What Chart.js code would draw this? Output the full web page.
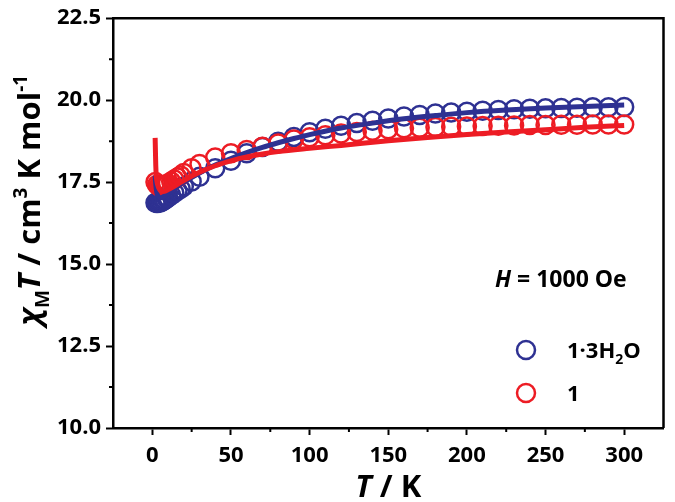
<!DOCTYPE html>
<html>
<head>
<meta charset="utf-8">
<script src="https://cdn.jsdelivr.net/npm/chart.js@4"></script>
<style>
html, body { margin: 0; padding: 0; background: #fff; }
</style>
</head>
<body>
<canvas id="myChart" width="675" height="502"></canvas>
<script>
// measured points, 1·3H2O and 1
var tempHyd = [2, 3, 4, 5, 6, 7, 8, 9, 10, 12, 14, 16, 18, 20, 25, 30, 40, 50, 60, 70, 80, 90, 100, 110, 120, 130, 140, 150, 160, 170, 180, 190, 200, 210, 220, 230, 240, 250, 260, 270, 280, 290, 300];
var chiHyd = [16.87, 16.86, 16.87, 16.88, 16.9, 16.93, 16.96, 17.0, 17.03, 17.1, 17.17, 17.24, 17.3, 17.37, 17.52, 17.66, 17.92, 18.15, 18.38, 18.57, 18.73, 18.88, 19.02, 19.13, 19.22, 19.3, 19.37, 19.44, 19.5, 19.55, 19.59, 19.62, 19.65, 19.68, 19.7, 19.72, 19.74, 19.75, 19.76, 19.77, 19.78, 19.78, 19.79];
var tempDry = [2, 3, 4, 5, 6, 7, 8, 9, 10, 12, 14, 16, 18, 20, 25, 30, 40, 50, 60, 70, 80, 90, 100, 110, 120, 130, 140, 150, 160, 170, 180, 190, 200, 210, 220, 230, 240, 250, 260, 270, 280, 290, 300];
var chiDry = [17.5, 17.42, 17.38, 17.36, 17.36, 17.38, 17.4, 17.43, 17.46, 17.52, 17.58, 17.64, 17.7, 17.78, 17.92, 18.05, 18.25, 18.38, 18.48, 18.58, 18.68, 18.8, 18.87, 18.93, 18.98, 19.03, 19.07, 19.11, 19.14, 19.16, 19.18, 19.19, 19.2, 19.21, 19.22, 19.23, 19.24, 19.24, 19.25, 19.25, 19.26, 19.26, 19.26];

// fitted curves
var fitTempHyd = [1.8, 2, 2.5, 3, 4, 5, 6, 8, 10, 15, 20, 30, 40, 50, 60, 70, 80, 90, 100, 120, 140, 160, 180, 200, 225, 250, 275, 300];
var fitHyd = [17.7, 17.55, 17.3, 17.15, 17.05, 17.02, 17.03, 17.08, 17.15, 17.33, 17.5, 17.78, 18.02, 18.22, 18.4, 18.56, 18.7, 18.83, 18.95, 19.15, 19.3, 19.43, 19.53, 19.62, 19.7, 19.76, 19.81, 19.85];
var fitTempDry = [1.8, 2, 2.2, 2.5, 3, 4, 5, 6, 8, 10, 15, 20, 30, 40, 50, 60, 70, 80, 100, 120, 150, 175, 200, 225, 250, 275, 300];
var fitDry = [18.85, 18.4, 18.0, 17.7, 17.5, 17.33, 17.25, 17.22, 17.22, 17.27, 17.4, 17.55, 17.8, 18.0, 18.15, 18.27, 18.36, 18.43, 18.53, 18.62, 18.76, 18.86, 18.95, 19.03, 19.1, 19.17, 19.23];

var xTicks = [0, 50, 100, 150, 200, 250, 300];
var xMinor = [25, 75, 125, 175, 225, 275];
var yTicks = [10, 12.5, 15, 17.5, 20, 22.5];
var yMinor = [11.25, 13.75, 16.25, 18.75, 21.25];

var labelHyd = [{t: '1·3H'}, {t: '2', sub: true}, {t: 'O'}];
var labelDry = [{t: '1'}];
var fieldText = [{t: 'H', it: true}, {t: ' = 1000 Oe'}];
var xTitle = [{t: 'T', it: true}, {t: ' / K'}];
var yTitle = [{t: 'χ', it: true}, {t: 'M', sub: true}, {t: 'T', it: true}, {t: ' / cm'}, {t: '3', sup: true}, {t: ' K mol'}, {t: '-1', sup: true}];

var blue = '#2e3192';
var red = '#ed1c24';
var fam = '"Open Sans", sans-serif';

function pts(xs, ys) {
    var out = [];
    for (var i = 0; i < xs.length; i++) out.push({x: xs[i], y: ys[i]});
    return out;
}

function fontFor(p, size) {
    var s = (p.sub || p.sup) ? Math.round(size * 0.62) : size;
    return (p.it ? 'italic ' : '') + 'bold ' + s + 'px ' + fam;
}

function richText(ctx, parts, x, y, size, center) {
    var w = 0;
    parts.forEach(function (p) { ctx.font = fontFor(p, size); w += ctx.measureText(p.t).width; });
    var cx = center ? x - w / 2 : x;
    ctx.textBaseline = 'alphabetic';
    ctx.textAlign = 'left';
    parts.forEach(function (p) {
        ctx.font = fontFor(p, size);
        var dy = p.sub ? size * 0.28 : (p.sup ? -size * 0.42 : 0);
        ctx.fillText(p.t, cx, y + dy);
        cx += ctx.measureText(p.t).width;
    });
}

var decor = {
    id: 'decor',
    afterDraw: function (chart) {
        var ctx = chart.ctx;
        var a = chart.chartArea;
        var xs = chart.scales.x, ys = chart.scales.y;
        ctx.save();
        ctx.strokeStyle = '#000';
        ctx.fillStyle = '#000';
        // top and right frame
        ctx.lineWidth = 2.5;
        ctx.beginPath();
        ctx.moveTo(a.left, a.top);
        ctx.lineTo(a.right, a.top);
        ctx.lineTo(a.right, a.bottom);
        ctx.stroke();
        // minor ticks
        ctx.lineWidth = 2;
        ctx.beginPath();
        xMinor.forEach(function (v) {
            var px = xs.getPixelForValue(v);
            ctx.moveTo(px, a.bottom);
            ctx.lineTo(px, a.bottom + 4);
        });
        yMinor.forEach(function (v) {
            var py = ys.getPixelForValue(v);
            ctx.moveTo(a.left, py);
            ctx.lineTo(a.left - 4, py);
        });
        ctx.stroke();
        // axis titles
        richText(ctx, xTitle, (a.left + a.right) / 2, 497, 31, true);
        ctx.save();
        ctx.translate(40, 200);
        ctx.rotate(-Math.PI / 2);
        richText(ctx, yTitle, 0, 0, 31, true);
        ctx.restore();
        // field note
        richText(ctx, fieldText, 495, 287, 23, false);
        // legend
        var items = [[labelHyd, blue, 350], [labelDry, red, 393]];
        items.forEach(function (it) {
            ctx.strokeStyle = it[1];
            ctx.lineWidth = 2.5;
            ctx.beginPath();
            ctx.arc(526, it[2], 9, 0, Math.PI * 2);
            ctx.stroke();
            ctx.fillStyle = '#000';
            richText(ctx, it[0], 567, it[2] + 8, 22, false);
        });
        ctx.restore();
    }
};

var tickFont = {family: fam, size: 22, weight: 'bold'};

var ctx = document.getElementById('myChart').getContext('2d');
var myChart = new Chart(ctx, {
    type: 'scatter',
    data: {
        datasets: [{
            label: 'fit 1',
            data: pts(fitTempDry, fitDry),
            showLine: true,
            borderColor: red,
            borderWidth: 5,
            pointRadius: 0,
            cubicInterpolationMode: 'monotone',
            order: 1
        }, {
            label: 'fit 1·3H2O',
            data: pts(fitTempHyd, fitHyd),
            showLine: true,
            borderColor: blue,
            borderWidth: 5,
            pointRadius: 0,
            cubicInterpolationMode: 'monotone',
            order: 2
        }, {
            label: '1',
            data: pts(tempDry, chiDry),
            showLine: false,
            borderColor: red,
            backgroundColor: 'rgba(0,0,0,0)',
            pointRadius: 9,
            pointBorderWidth: 2.5,
            borderWidth: 2.5,
            order: 3
        }, {
            label: '1·3H2O',
            data: pts(tempHyd, chiHyd),
            showLine: false,
            borderColor: blue,
            backgroundColor: 'rgba(0,0,0,0)',
            pointRadius: 9,
            pointBorderWidth: 2.5,
            borderWidth: 2.5,
            order: 4
        }]
    },
    options: {
        responsive: false,
        animation: false,
        layout: {padding: {top: 12, right: 4, left: 0, bottom: 0}},
        plugins: {legend: {display: false}, tooltip: {enabled: false}},
        scales: {
            x: {
                type: 'linear',
                min: -25,
                max: 325,
                afterBuildTicks: function (s) { s.ticks = xTicks.map(function (v) { return {value: v}; }); },
                afterFit: function (s) { s.height = 74; },
                ticks: {font: tickFont, color: '#000', padding: 8, maxRotation: 0,
                    callback: function (v) { return String(v); }},
                grid: {drawOnChartArea: false, drawTicks: true, tickLength: 7, tickWidth: 2, tickColor: '#000'},
                border: {display: true, width: 2.5, color: '#000'}
            },
            y: {
                min: 10,
                max: 22.5,
                afterBuildTicks: function (s) { s.ticks = yTicks.map(function (v) { return {value: v}; }); },
                afterFit: function (s) { s.width = 113; },
                ticks: {font: tickFont, color: '#000', padding: 5,
                    callback: function (v) { return v.toFixed(1); }},
                grid: {drawOnChartArea: false, drawTicks: true, tickLength: 7, tickWidth: 2, tickColor: '#000'},
                border: {display: true, width: 2.5, color: '#000'}
            }
        }
    },
    plugins: [decor]
});
</script>
</body>
</html>
